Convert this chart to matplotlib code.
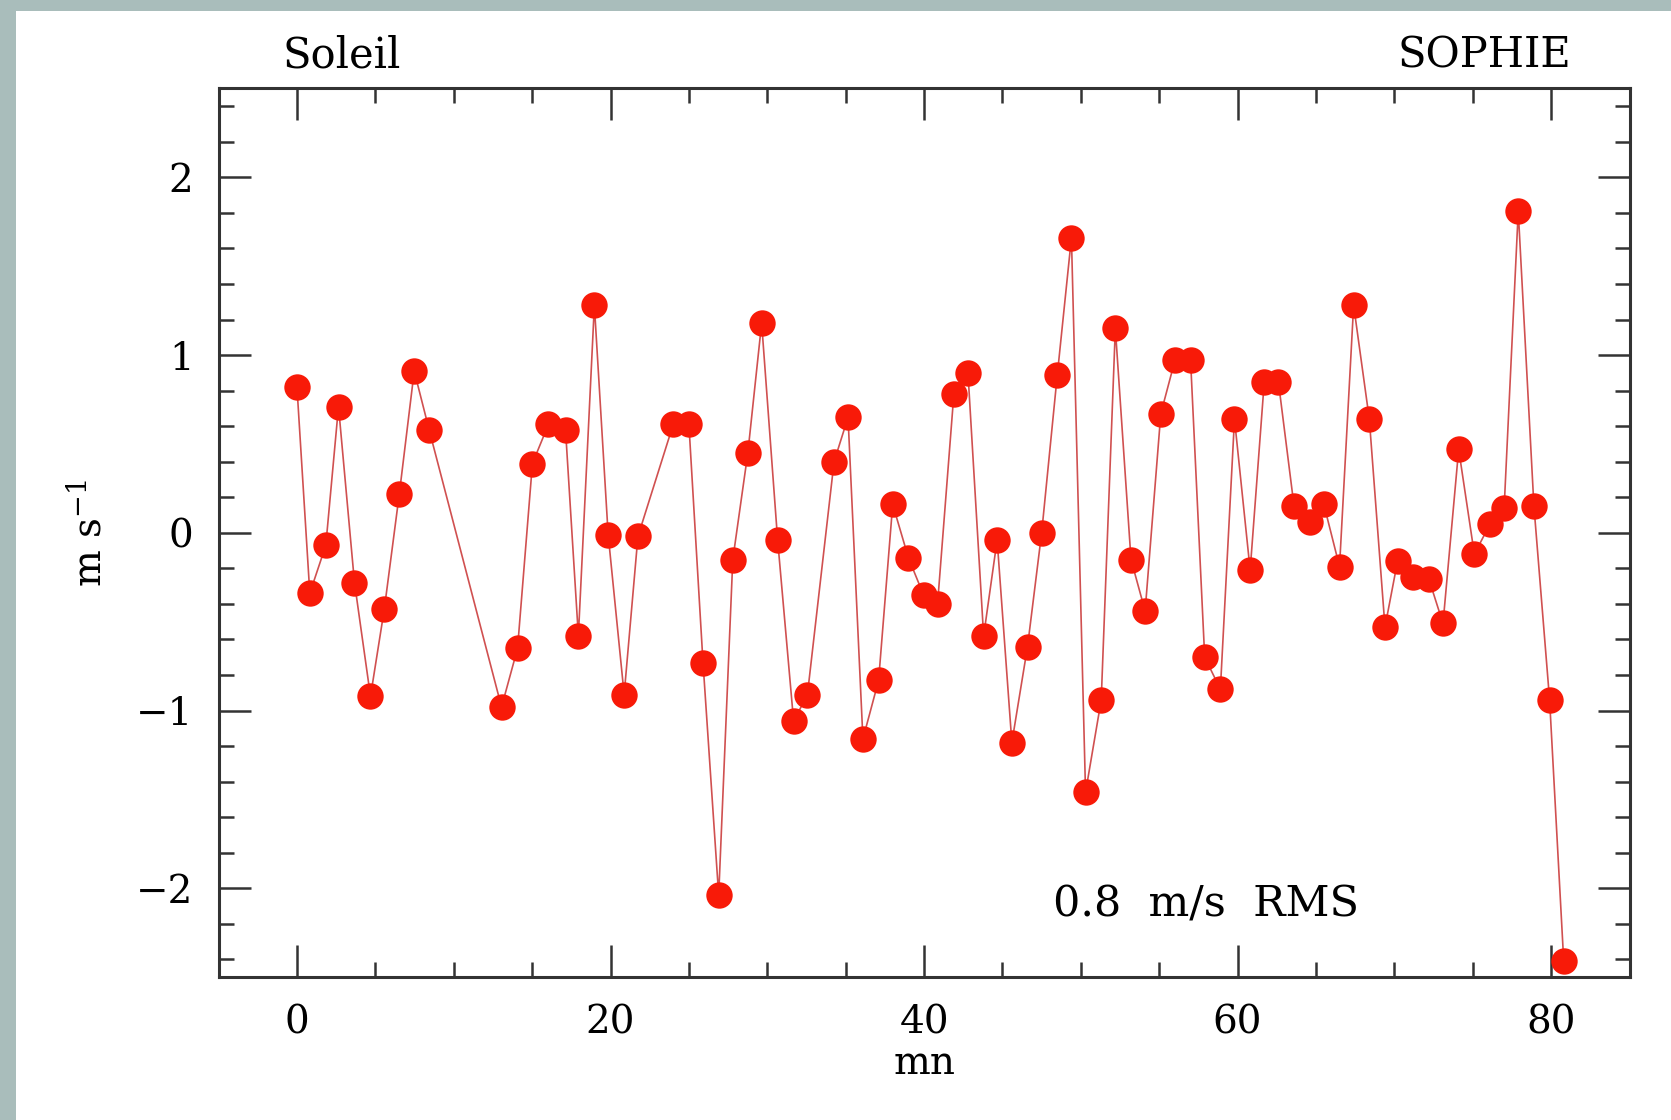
import matplotlib
matplotlib.use("Agg")
import matplotlib.pyplot as plt
from matplotlib.patches import Rectangle
from matplotlib.ticker import MultipleLocator

# minutes et vitesses radiales résiduelles
temps_mn = [0.0, 0.82, 1.84, 2.65, 3.67, 4.69, 5.57, 6.53, 7.48, 8.43,
            13.05, 14.07, 15.02, 16.04, 17.13, 17.95, 18.97, 19.85, 20.87, 21.75,
            24.0, 25.0, 25.9, 26.9, 27.8, 28.76, 29.64, 30.66, 31.68, 32.56,
            34.26, 35.15, 36.1, 37.1, 38.0, 39.0, 39.97, 40.86, 41.9, 42.8,
            43.8, 44.66, 45.6, 46.6, 47.5, 48.5, 49.4, 50.3, 51.3, 52.2,
            53.2, 54.1, 55.1, 56.0, 57.0, 57.9, 58.9, 59.8, 60.8, 61.7,
            62.6, 63.6, 64.6, 65.5, 66.5, 67.4, 68.4, 69.4, 70.2, 71.2,
            72.2, 73.1, 74.1, 75.1, 76.1, 77.0, 77.9, 78.9, 79.9, 80.8]
vitesse = [0.82, -0.34, -0.07, 0.71, -0.28, -0.92, -0.43, 0.22, 0.91, 0.58,
           -0.98, -0.65, 0.39, 0.61, 0.58, -0.58, 1.28, -0.01, -0.91, -0.02,
           0.61, 0.61, -0.73, -2.04, -0.15, 0.45, 1.18, -0.04, -1.06, -0.91,
           0.40, 0.65, -1.16, -0.83, 0.16, -0.14, -0.35, -0.40, 0.78, 0.90,
           -0.58, -0.04, -1.18, -0.64, 0.00, 0.89, 1.66, -1.46, -0.94, 1.15,
           -0.15, -0.44, 0.67, 0.97, 0.97, -0.70, -0.88, 0.64, -0.21, 0.85,
           0.85, 0.15, 0.06, 0.16, -0.19, 1.28, 0.64, -0.53, -0.16, -0.25,
           -0.26, -0.51, 0.47, -0.12, 0.05, 0.14, 1.81, 0.15, -0.94, -2.41]

plt.rcParams["font.family"] = ["DejaVu Serif"]
plt.rcParams["mathtext.fontset"] = "dejavuserif"

fig = plt.figure(figsize=(16.71, 11.2), dpi=100)
fig.patch.set_facecolor("#a9bdbb")
# fond blanc de la diapo (bande grise à gauche et en haut)
fig.patches.append(Rectangle((16 / 1671, 0), 1, 1 - 11 / 1120,
                             transform=fig.transFigure, facecolor="white",
                             edgecolor="none", zorder=-10))

ax = fig.add_axes([0.1308, 0.1275, 0.8444, 0.7935])
ax.set_zorder(5)
ax.plot(temps_mn, vitesse, color="#d05050", lw=1.2, zorder=2)
ax.plot(temps_mn, vitesse, "o", color="#f81a08", ms=19, mec="none", zorder=3)

ax.set_xlim(-5, 85)
ax.set_ylim(-2.5, 2.5)
ax.xaxis.set_major_locator(MultipleLocator(20))
ax.xaxis.set_minor_locator(MultipleLocator(5))
ax.yaxis.set_major_locator(MultipleLocator(1))
ax.yaxis.set_minor_locator(MultipleLocator(0.2))
ax.tick_params(which="both", direction="in", top=True, right=True,
               color="#333333", width=1.8, labelsize=28)
ax.tick_params(axis="x", pad=20)
ax.tick_params(axis="y", pad=18)
ax.tick_params(which="major", length=23)
ax.tick_params(which="minor", length=11)
for sp in ax.spines.values():
    sp.set_linewidth(2.2)
    sp.set_color("#333333")

ax.set_xlabel("mn", fontsize=28, labelpad=2)
ax.set_ylabel(r"m s$^{-1}$", fontsize=28, labelpad=20)

fig.text(282 / 1671, 1 - 67 / 1120, "Soleil", fontsize=30, ha="left", va="baseline")
fig.text(1571 / 1671, 1 - 67 / 1120, "SOPHIE", fontsize=30, ha="right", va="baseline")
ax.text(48.2, -2.16, "0.8  m/s  RMS", fontsize=31, ha="left", va="baseline")

fig.savefig("out.png", dpi=100, facecolor=fig.get_facecolor())
